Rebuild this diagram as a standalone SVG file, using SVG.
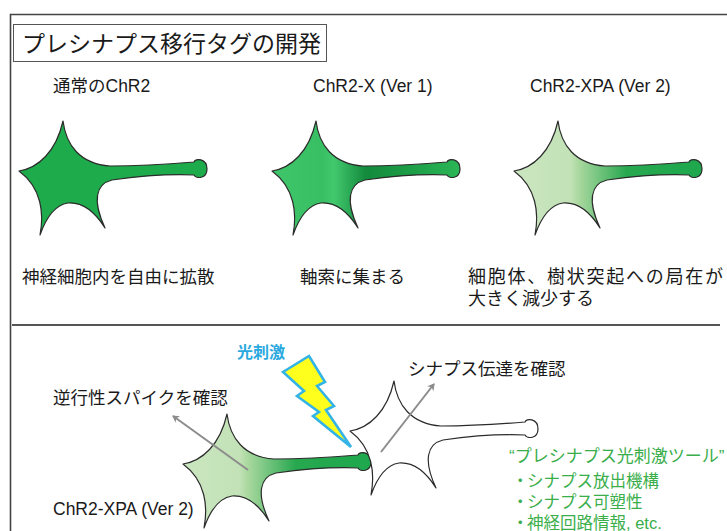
<svg xmlns="http://www.w3.org/2000/svg" xmlns:xlink="http://www.w3.org/1999/xlink" width="727" height="531" viewBox="0 0 727 531">
  <style>
    text { font-family: "Liberation Sans", "Noto Sans CJK JP", sans-serif; fill: #1a1a1a; }
    .lbl { font-size: 17.5px; }
    .wide { font-size: 18px; }
    .title { font-size: 23px; }
    .light { font-size: 16px; fill: #2aa9e0; font-weight: bold; }
    .tool { font-size: 17px; fill: #3aae4a; }
    .item { font-size: 16.5px; fill: #3aae4a; }
    .cellline { stroke: #2b2b2b; stroke-width: 1.2; stroke-linejoin: round; }
    .frame { fill: none; stroke: #444; stroke-width: 1.6; }
    .probe { stroke: #8c8c8c; stroke-width: 2; fill: none; marker-end: url(#head); }
  </style>
  <defs>
    <!-- generic neuron outline: soma with three dendrites and an axon ending in a bouton -->
    <path id="cell" d="M19,171 C38,168 56,152 63,121 C66,145 80,164 110,166 C140,166 170,164 194,162 C195,158 207,158 207,169 C207,179 196,179 194,175 C170,174 140,176 112,180 C96,184 92,200 105,228 C95,212 82,202 68,203 C55,205 46,218 40,235 C44,214 42,188 19,171 Z"/>
    <linearGradient id="gradX" x1="0" y1="0" x2="1" y2="0">
      <stop offset="0" stop-color="#3fc66b"/>
      <stop offset="0.27" stop-color="#38bf63"/>
      <stop offset="0.33" stop-color="#42c86d"/>
      <stop offset="0.5" stop-color="#138a3c"/>
      <stop offset="0.75" stop-color="#1d9f48"/>
      <stop offset="1" stop-color="#2bb657"/>
    </linearGradient>
    <linearGradient id="gradXPA" x1="0" y1="0" x2="1" y2="0">
      <stop offset="0" stop-color="#cae6c0"/>
      <stop offset="0.3" stop-color="#c3e2b7"/>
      <stop offset="0.34" stop-color="#acd9a1"/>
      <stop offset="0.6" stop-color="#27a84f"/>
      <stop offset="1" stop-color="#1ea84d"/>
    </linearGradient>
    <marker id="head" markerWidth="10" markerHeight="10" refX="7" refY="5" orient="auto" markerUnits="userSpaceOnUse">
      <path d="M1,1 L8,5 L1,9 L3,5 Z" fill="#8c8c8c"/>
    </marker>
  </defs>

  <!-- outer frame and section divider -->
  <path class="frame" d="M727,14.5 H10.5 V531"/>
  <line x1="12" y1="325" x2="720" y2="325" stroke="#555" stroke-width="1.8"/>

  <g id="title">
    <rect x="13.5" y="24.5" width="313" height="37" fill="#fff" stroke="#555" stroke-width="1"/>
    <text class="title" x="22" y="52">プレシナプス移行タグの開発</text>
  </g>

  <g id="chr2">
    <use xlink:href="#cell" class="cellline" fill="#1eab4b"/>
    <text class="lbl" x="53" y="92">通常のChR2</text>
    <text class="lbl" x="22" y="283">神経細胞内を自由に拡散</text>
  </g>

  <g id="chr2-x">
    <use xlink:href="#cell" class="cellline" fill="url(#gradX)" transform="translate(253,0)"/>
    <text class="lbl" x="313" y="92">ChR2-X (Ver 1)</text>
    <text class="lbl" x="300" y="283">軸索に集まる</text>
  </g>

  <g id="chr2-xpa">
    <use xlink:href="#cell" class="cellline" fill="url(#gradXPA)" transform="translate(495,0)"/>
    <text class="lbl" x="530" y="92">ChR2-XPA (Ver 2)</text>
    <text class="wide" x="468" y="283" textLength="255">細胞体、樹状突起への局在が</text>
    <text class="wide" x="468" y="305">大きく減少する</text>
  </g>

  <g id="presynaptic">
    <use xlink:href="#cell" class="cellline" fill="url(#gradXPA)" transform="translate(164,293)"/>
    <text class="lbl" x="53" y="515">ChR2-XPA (Ver 2)</text>
  </g>

  <g id="postsynaptic">
    <use xlink:href="#cell" class="cellline" fill="#fff" transform="translate(331,260)"/>
  </g>

  <g id="stimulus">
    <path d="M283,372 L309,356 L325,382 L317,386 L334,406 L326,410 L351,447 L313,416 L319,412 L297,396 L304,391 Z" fill="#ffff1e" stroke="#33b3e6" stroke-width="2.6" stroke-linejoin="miter"/>
    <text class="light" x="237" y="358">光刺激</text>
  </g>

  <g id="connectors">
    <line class="probe" x1="248" y1="470" x2="173" y2="416"/>
    <line class="probe" x1="381" y1="452" x2="434" y2="384"/>
  </g>

  <g id="notes">
    <text class="lbl" x="53" y="404">逆行性スパイクを確認</text>
    <text class="lbl" x="408" y="375">シナプス伝達を確認</text>
    <text class="tool" x="509" y="462">“プレシナプス光刺激ツール”</text>
    <text class="item" y="487"><tspan x="512">・</tspan><tspan x="527">シナプス放出機構</tspan></text>
    <text class="item" y="508"><tspan x="512">・</tspan><tspan x="527">シナプス可塑性</tspan></text>
    <text class="item" y="529"><tspan x="512">・</tspan><tspan x="527">神経回路情報, etc.</tspan></text>
  </g>
</svg>
